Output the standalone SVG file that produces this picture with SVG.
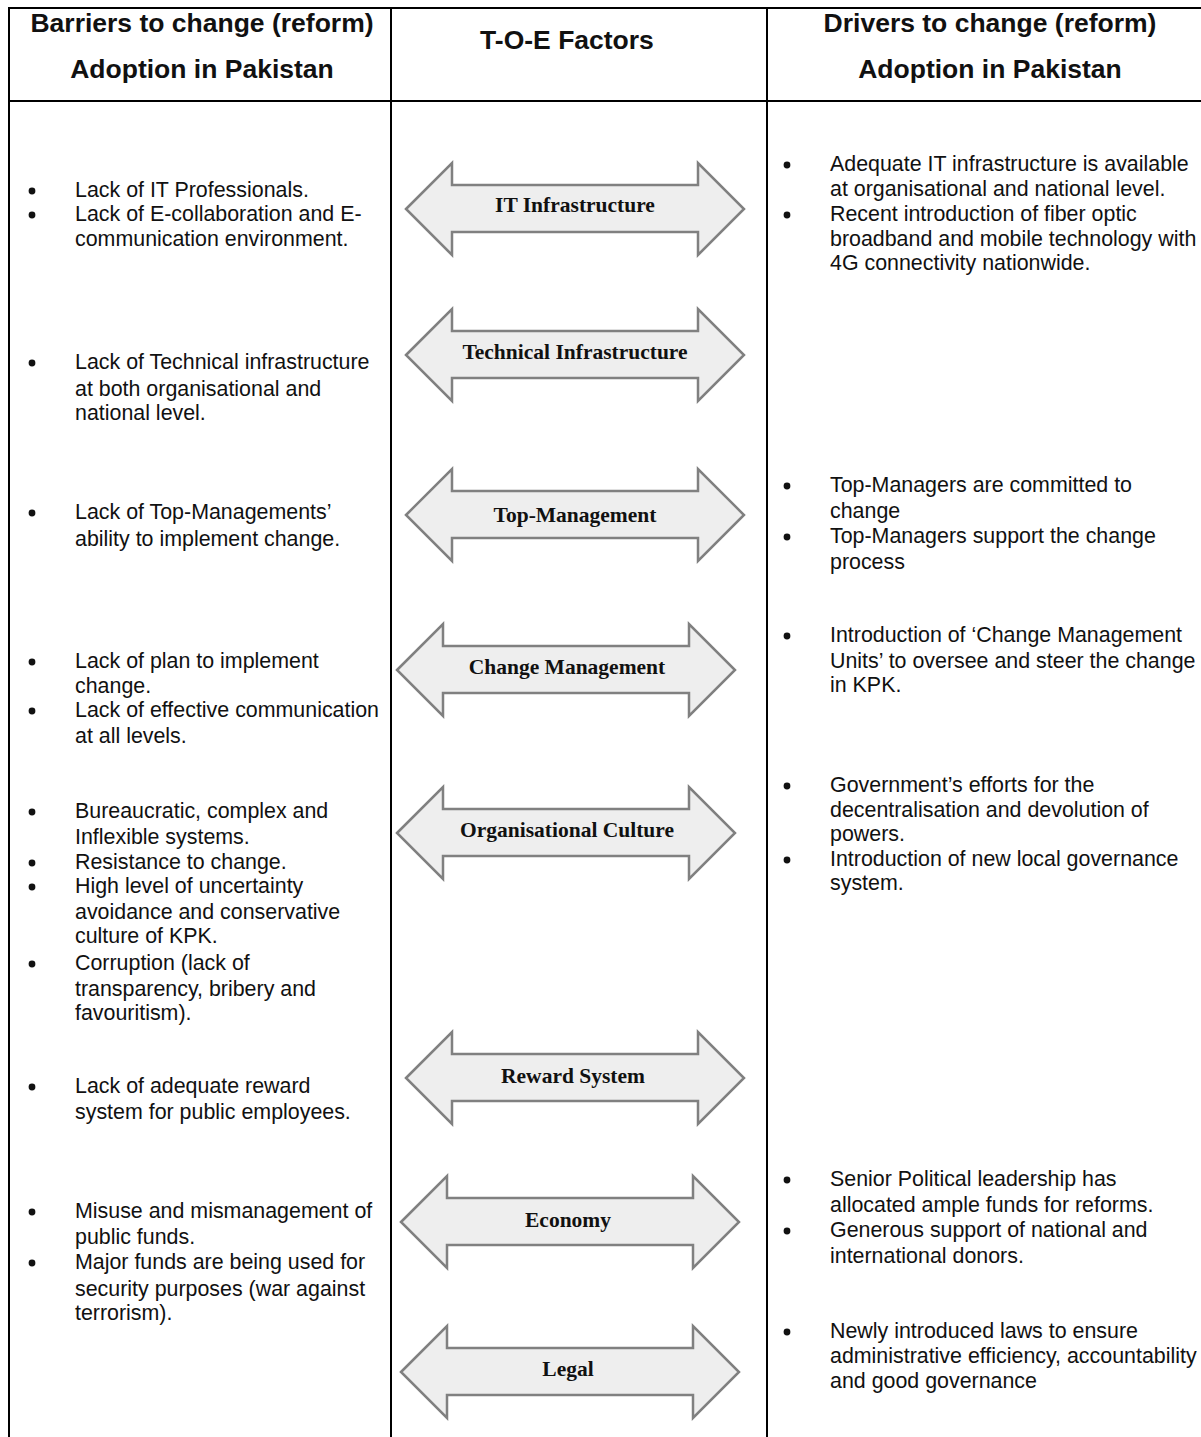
<svg xmlns="http://www.w3.org/2000/svg" xmlns:xlink="http://www.w3.org/1999/xlink" width="1201" height="1437" viewBox="0 0 1201 1437">
  <style>
    .grid { stroke: #000; stroke-width: 2; fill: none; }
    .head { font-family: "Liberation Sans", Arial, sans-serif; font-weight: bold; font-size: 26.5px; fill: #111; text-anchor: middle; }
    .body { font-family: "Liberation Sans", Arial, sans-serif; font-size: 21.4px; fill: #111; }
    .dot { fill: #111; }
    .arrow { fill: #eeeeee; stroke: #808080; stroke-width: 2.5; stroke-linejoin: miter; }
    .label { font-family: "Liberation Serif", "Times New Roman", serif; font-weight: bold; font-size: 21.5px; fill: #111; text-anchor: middle; }
  </style>
  <defs>
    <!-- double-headed block arrow, 338 x 92 -->
    <path id="dbl" d="M0,46 L46,0 L46,22 L292,22 L292,0 L338,46 L292,92 L292,69 L46,69 L46,92 Z"/>
  </defs>

  <rect width="1201" height="1437" fill="#fff"/>

  <!-- table rules -->
  <g id="table">
    <line class="grid" x1="9" y1="8" x2="1201" y2="8"/>
    <line class="grid" x1="9" y1="101" x2="1201" y2="101"/>
    <line class="grid" x1="9" y1="7" x2="9" y2="1437"/>
    <line class="grid" x1="391" y1="7" x2="391" y2="1437"/>
    <line class="grid" x1="767" y1="7" x2="767" y2="1437"/>
  </g>

  <!-- column headings -->
  <g id="headings">
    <text class="head" x="202" y="32">Barriers to change (reform)</text>
    <text class="head" x="202" y="78">Adoption in Pakistan</text>
    <text class="head" x="567" y="49">T-O-E Factors</text>
    <text class="head" x="990" y="32">Drivers to change (reform)</text>
    <text class="head" x="990" y="78">Adoption in Pakistan</text>
  </g>

  <!-- factor arrows -->
  <g id="factor-it">
    <use xlink:href="#dbl" class="arrow" x="406" y="163"/>
    <text class="label" x="575" y="212">IT Infrastructure</text>
  </g>
  <g id="factor-technical">
    <use xlink:href="#dbl" class="arrow" x="406" y="309"/>
    <text class="label" x="575" y="359">Technical Infrastructure</text>
  </g>
  <g id="factor-top-management">
    <use xlink:href="#dbl" class="arrow" x="406" y="469"/>
    <text class="label" x="575" y="522">Top-Management</text>
  </g>
  <g id="factor-change-management">
    <use xlink:href="#dbl" class="arrow" x="397" y="624"/>
    <text class="label" x="567" y="674">Change Management</text>
  </g>
  <g id="factor-culture">
    <use xlink:href="#dbl" class="arrow" x="397" y="787"/>
    <text class="label" x="567" y="837">Organisational Culture</text>
  </g>
  <g id="factor-reward">
    <use xlink:href="#dbl" class="arrow" x="406" y="1032"/>
    <text class="label" x="573" y="1083">Reward System</text>
  </g>
  <g id="factor-economy">
    <use xlink:href="#dbl" class="arrow" x="401" y="1176"/>
    <text class="label" x="568" y="1227">Economy</text>
  </g>
  <g id="factor-legal">
    <use xlink:href="#dbl" class="arrow" x="401" y="1326"/>
    <text class="label" x="568" y="1376">Legal</text>
  </g>

  <!-- barriers (left column) -->
  <g id="barriers">
    <g class="dot">
      <circle cx="32" cy="191" r="3.4"/>
      <circle cx="32" cy="215" r="3.4"/>
      <circle cx="32" cy="363" r="3.4"/>
      <circle cx="32" cy="513" r="3.4"/>
      <circle cx="32" cy="662" r="3.4"/>
      <circle cx="32" cy="711" r="3.4"/>
      <circle cx="32" cy="812" r="3.4"/>
      <circle cx="32" cy="863" r="3.4"/>
      <circle cx="32" cy="887" r="3.4"/>
      <circle cx="32" cy="964" r="3.4"/>
      <circle cx="32" cy="1087" r="3.4"/>
      <circle cx="32" cy="1212" r="3.4"/>
      <circle cx="32" cy="1263" r="3.4"/>
    </g>
    <text class="body">
      <tspan x="75" y="197">Lack of IT Professionals.</tspan>
      <tspan x="75" y="221">Lack of E-collaboration and E-</tspan>
      <tspan x="75" y="246">communication environment.</tspan>
      <tspan x="75" y="369">Lack of Technical infrastructure</tspan>
      <tspan x="75" y="396">at both organisational and</tspan>
      <tspan x="75" y="420">national level.</tspan>
      <tspan x="75" y="519">Lack of Top-Managements’</tspan>
      <tspan x="75" y="546">ability to implement change.</tspan>
      <tspan x="75" y="668">Lack of plan to implement</tspan>
      <tspan x="75" y="693">change.</tspan>
      <tspan x="75" y="717">Lack of effective communication</tspan>
      <tspan x="75" y="743">at all levels.</tspan>
      <tspan x="75" y="818">Bureaucratic, complex and</tspan>
      <tspan x="75" y="844">Inflexible systems.</tspan>
      <tspan x="75" y="869">Resistance to change.</tspan>
      <tspan x="75" y="893">High level of uncertainty</tspan>
      <tspan x="75" y="919">avoidance and conservative</tspan>
      <tspan x="75" y="943">culture of KPK.</tspan>
      <tspan x="75" y="970">Corruption (lack of</tspan>
      <tspan x="75" y="996">transparency, bribery and</tspan>
      <tspan x="75" y="1020">favouritism).</tspan>
      <tspan x="75" y="1093">Lack of adequate reward</tspan>
      <tspan x="75" y="1119">system for public employees.</tspan>
      <tspan x="75" y="1218">Misuse and mismanagement of</tspan>
      <tspan x="75" y="1244">public funds.</tspan>
      <tspan x="75" y="1269">Major funds are being used for</tspan>
      <tspan x="75" y="1296">security purposes (war against</tspan>
      <tspan x="75" y="1320">terrorism).</tspan>
    </text>
  </g>

  <!-- drivers (right column) -->
  <g id="drivers">
    <g class="dot">
      <circle cx="787" cy="165" r="3.4"/>
      <circle cx="787" cy="215" r="3.4"/>
      <circle cx="787" cy="486" r="3.4"/>
      <circle cx="787" cy="537" r="3.4"/>
      <circle cx="787" cy="636" r="3.4"/>
      <circle cx="787" cy="786" r="3.4"/>
      <circle cx="787" cy="860" r="3.4"/>
      <circle cx="787" cy="1180" r="3.4"/>
      <circle cx="787" cy="1231" r="3.4"/>
      <circle cx="787" cy="1332" r="3.4"/>
    </g>
    <text class="body">
      <tspan x="830" y="171">Adequate IT infrastructure is available</tspan>
      <tspan x="830" y="196">at organisational and national level.</tspan>
      <tspan x="830" y="221">Recent introduction of fiber optic</tspan>
      <tspan x="830" y="246">broadband and mobile technology with</tspan>
      <tspan x="830" y="270">4G connectivity nationwide.</tspan>
      <tspan x="830" y="492">Top-Managers are committed to</tspan>
      <tspan x="830" y="518">change</tspan>
      <tspan x="830" y="543">Top-Managers support the change</tspan>
      <tspan x="830" y="569">process</tspan>
      <tspan x="830" y="642">Introduction of ‘Change Management</tspan>
      <tspan x="830" y="668">Units’ to oversee and steer the change</tspan>
      <tspan x="830" y="692">in KPK.</tspan>
      <tspan x="830" y="792">Government’s efforts for the</tspan>
      <tspan x="830" y="817">decentralisation and devolution of</tspan>
      <tspan x="830" y="841">powers.</tspan>
      <tspan x="830" y="866">Introduction of new local governance</tspan>
      <tspan x="830" y="890">system.</tspan>
      <tspan x="830" y="1186">Senior Political leadership has</tspan>
      <tspan x="830" y="1212">allocated ample funds for reforms.</tspan>
      <tspan x="830" y="1237">Generous support of national and</tspan>
      <tspan x="830" y="1263">international donors.</tspan>
      <tspan x="830" y="1338">Newly introduced laws to ensure</tspan>
      <tspan x="830" y="1363">administrative efficiency, accountability</tspan>
      <tspan x="830" y="1388">and good governance</tspan>
    </text>
  </g>
</svg>
